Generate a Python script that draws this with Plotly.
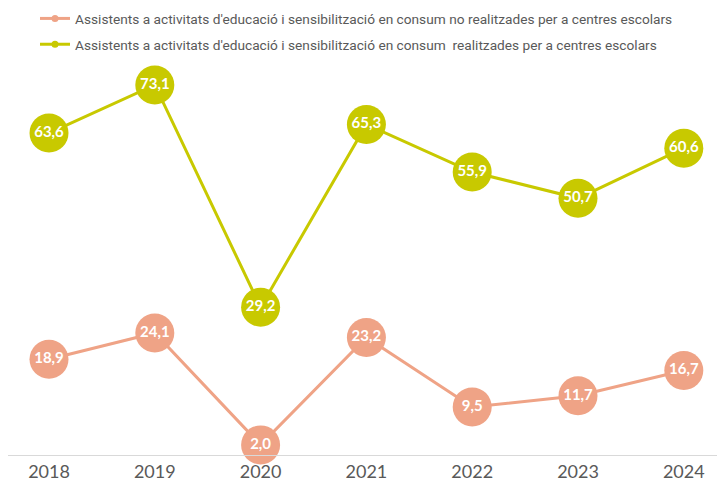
import plotly.graph_objects as go

years = ["2018", "2019", "2020", "2021", "2022", "2023", "2024"]
no_escolars = [18.9, 24.1, 2.0, 23.2, 9.5, 11.7, 16.7]
escolars = [63.6, 73.1, 29.2, 65.3, 55.9, 50.7, 60.6]

name_no = "Assistents a activitats d'educació i sensibilització en consum no realitzades per a centres escolars"
name_si = "Assistents a activitats d'educació i sensibilització en consum  realitzades per a centres escolars"

c_no = "#EFA386"
c_si = "#C8C900"

x = list(range(len(years)))

def lab(vals):
    return [f"{v:.1f}".replace(".", ",") for v in vals]

fig = go.Figure()
for vals, col in [(no_escolars, c_no), (escolars, c_si)]:
    fig.add_trace(go.Scatter(
        x=x, y=vals, mode="lines+markers+text",
        line=dict(color=col, width=3),
        marker=dict(color=col, size=39),
        text=lab(vals), textposition="middle center",
        textfont=dict(family="Lato", size=15, color="white", weight="bold"),
        showlegend=False, cliponaxis=False, hoverinfo="skip"))

for nm, col, g in [(name_no, c_no, "a"), (name_si, c_si, "b")]:
    fig.add_trace(go.Scatter(
        x=[None], y=[None], mode="lines+markers", name=nm, legendgroup=g,
        line=dict(color=col, width=3), marker=dict(color=col, size=7)))

fig.update_layout(
    width=725, height=490,
    margin=dict(l=0, r=0, t=42, b=43, autoexpand=False),
    paper_bgcolor="white", plot_bgcolor="white",
    showlegend=True,
    legend=dict(xref="container", yref="paper",
                x=27 / 725, xanchor="left", y=1.116, yanchor="top",
                traceorder="grouped", tracegroupgap=5,
                font=dict(family="Roboto", size=13.7, color="#595959"),
                bgcolor="rgba(0,0,0,0)"),
    xaxis=dict(range=[-0.3875, 6.465], tickmode="array", tickvals=x, ticktext=years,
               showgrid=False, zeroline=False, showline=True, linecolor="#D9D9D9",
               linewidth=1, ticks="", automargin=False,
               tickfont=dict(family="Lato", size=18, color="#595959")),
    yaxis=dict(range=[0, 80], visible=False, showgrid=False, zeroline=False,
               automargin=False),
)

fig.write_html("out.html")
